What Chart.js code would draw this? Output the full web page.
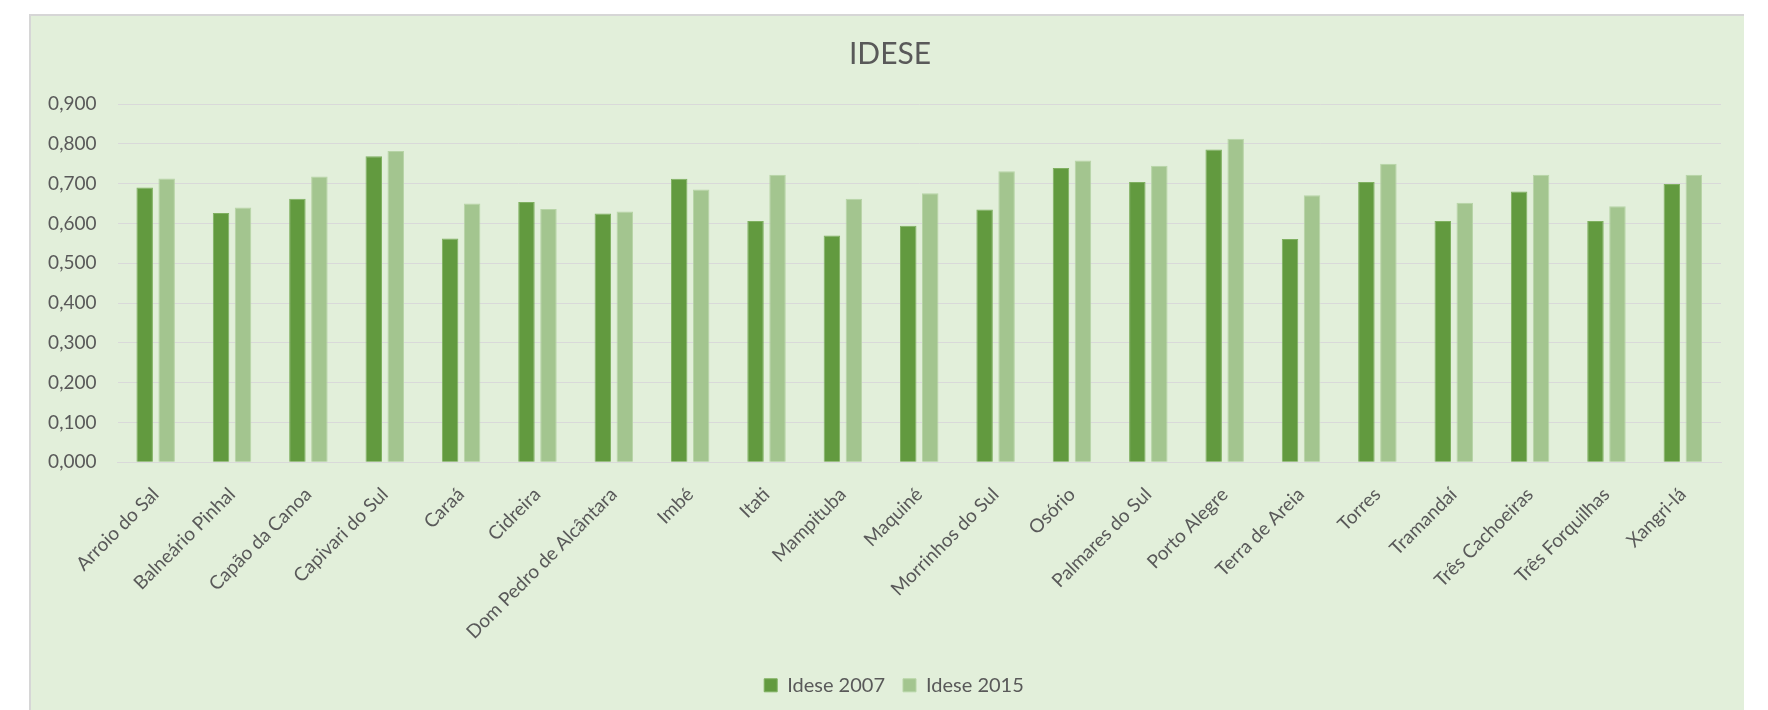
<!DOCTYPE html>
<html lang="pt-BR">
<head>
<meta charset="utf-8">
<title>IDESE</title>
<script src="https://cdn.jsdelivr.net/npm/chart.js@4.4.1/dist/chart.umd.min.js"></script>
<style>
  html, body { margin: 0; padding: 0; background: #ffffff; overflow: hidden; }
  #quadro {
    position: absolute;
    left: 29px;
    top: 14px;
    width: 1713px;
    height: 694px;
    border-left: 2px solid #d6d6d6;
    border-top: 2px solid #d6d6d6;
    background: #e2efda;
  }
  #grafico { display: block; }
</style>
</head>
<body>
<div id="quadro">
  <canvas id="grafico" width="1713" height="694"></canvas>
</div>
<script>
// municípios (eixo x)
const municipios = [
  "Arroio do Sal", "Balneário Pinhal", "Capão da Canoa", "Capivari do Sul",
  "Caraá", "Cidreira", "Dom Pedro de Alcântara", "Imbé", "Itati",
  "Mampituba", "Maquiné", "Morrinhos do Sul", "Osório", "Palmares do Sul",
  "Porto Alegre", "Terra de Areia", "Torres", "Tramandaí",
  "Três Cachoeiras", "Três Forquilhas", "Xangri-lá"
];

// valores
const idese2007 = [
  0.690, 0.626, 0.662, 0.769, 0.562, 0.654, 0.625, 0.712, 0.606,
  0.570, 0.594, 0.635, 0.739, 0.704, 0.786, 0.561, 0.704, 0.606,
  0.680, 0.606, 0.699
];
const idese2015 = [
  0.713, 0.640, 0.718, 0.782, 0.650, 0.636, 0.630, 0.685, 0.722,
  0.662, 0.676, 0.731, 0.758, 0.745, 0.813, 0.671, 0.750, 0.652,
  0.722, 0.643, 0.722
];

const series = ["Idese 2007", "Idese 2015"];
const rotulosY = ["0,000", "0,100", "0,200", "0,300", "0,400", "0,500", "0,600", "0,700", "0,800", "0,900"];

const corTexto = "#595959";
const fonte = "Lato, 'Open Sans', sans-serif";

// título e legenda não ficam no mesmo centro no original
const deslocar = {
  id: "deslocar",
  afterLayout(chart) {
    chart.titleBlock.left += 14;
    chart.titleBlock.right += 14;
    chart.legend.left += 18;
    chart.legend.right += 18;
  }
};

new Chart(document.getElementById("grafico"), {
  type: "bar",
  data: {
    labels: municipios,
    datasets: [
      {
        label: series[0],
        data: idese2007,
        backgroundColor: "#629a3f",
        borderColor: "#7fb060",
        borderWidth: 1,
        categoryPercentage: 0.576,
        barPercentage: 0.75
      },
      {
        label: series[1],
        data: idese2015,
        backgroundColor: "#a3c58f",
        borderColor: "#b7d4a6",
        borderWidth: 1,
        categoryPercentage: 0.576,
        barPercentage: 0.75
      }
    ]
  },
  options: {
    responsive: false,
    animation: false,
    layout: { padding: { left: 0, right: 23, top: 0, bottom: 4.7 } },
    plugins: {
      title: {
        display: true,
        text: "IDESE",
        color: corTexto,
        font: { family: fonte, size: 30, weight: "normal", lineHeight: 1.2 },
        padding: { top: 20.6, bottom: 31.4 }
      },
      legend: {
        position: "bottom",
        labels: {
          color: corTexto,
          font: { family: fonte, size: 20 },
          boxWidth: 13,
          boxHeight: 13,
          padding: 18
        }
      },
      tooltip: { enabled: false }
    },
    scales: {
      x: {
        grid: { display: false },
        border: { display: true, color: "#d9d9d9", width: 1 },
        ticks: {
          color: corTexto,
          font: { family: fonte, size: 19 },
          autoSkip: false,
          maxRotation: 45,
          minRotation: 45,
          padding: 13
        },
        afterFit(scale) { scale.height = 195; }
      },
      y: {
        min: 0,
        max: 0.9,
        grid: { color: "#d9d9d9", lineWidth: 1, drawTicks: false },
        border: { display: false },
        ticks: {
          stepSize: 0.1,
          color: corTexto,
          font: { family: fonte, size: 19 },
          padding: 21,
          callback: (v, i) => rotulosY[i]
        },
        afterFit(scale) { scale.width = 86.5; }
      }
    }
  },
  plugins: [deslocar]
});
</script>
</body>
</html>
